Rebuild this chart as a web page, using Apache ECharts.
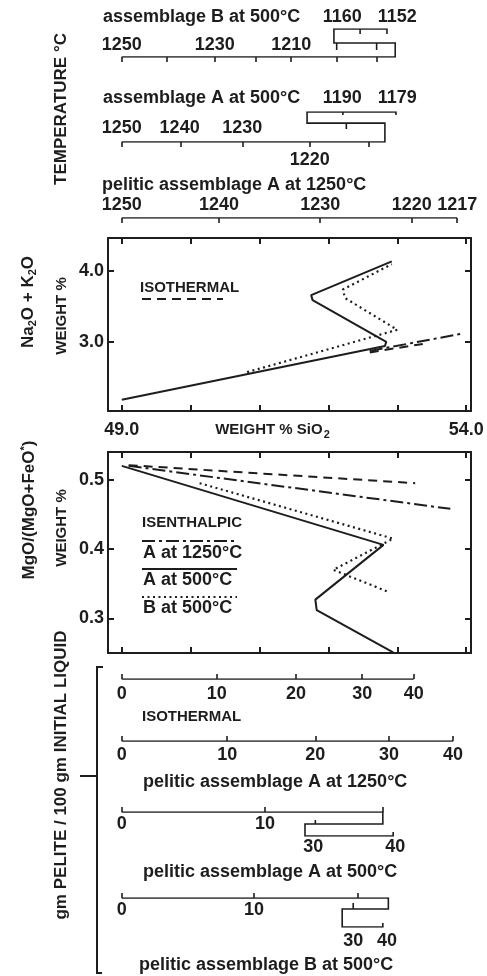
<!DOCTYPE html>
<html>
<head>
<meta charset="utf-8">
<script src="https://cdn.jsdelivr.net/npm/echarts@6/dist/echarts.min.js"></script>
<style>
  html, body { margin: 0; padding: 0; background: #fff; }
  #chart { width: 487px; height: 976px; }
</style>
</head>
<body>
<div id="chart"></div>
<script>
// shared horizontal scale: wt% SiO2
const X_MIN = 48.8, X_MAX = 54.07;
const sio2Ticks = [49, 50, 51, 52, 53, 54];
const sio2Labels = [49, 54];

// Na2O + K2O (wt%)
const naTicks = [3.0, 4.0];
const naA500 = [[49.0, 2.18], [52.82, 2.94], [52.84, 3.0], [51.77, 3.59], [51.75, 3.66], [52.92, 4.14]];
const naB500 = [[50.82, 2.57], [53.0, 3.17], [52.24, 3.62], [52.21, 3.74], [52.92, 4.10]];
const naA1250 = [[52.6, 2.87], [53.96, 3.12]];
const naIso = [[52.6, 2.85], [53.37, 2.97]];

// MgO/(MgO+FeO*) (wt%)
const mgTicks = [0.3, 0.4, 0.5];
const mgA500 = [[49.0, 0.52], [52.8, 0.406], [51.81, 0.327], [51.83, 0.312], [52.94, 0.251]];
const mgB500 = [[50.13, 0.495], [52.94, 0.415], [52.07, 0.37], [52.85, 0.339]];
const mgA1250 = [[49.1, 0.52], [53.77, 0.458]];
const mgIso = [[49.1, 0.521], [53.26, 0.495]];

// temperature scales (deg C), placed at SiO2-equivalent positions
const tBTicks = [49.0, 49.66, 50.35, 50.95, 51.46, 52.12, 52.70];
const tBLabelAt = [49.0, 50.35, 51.46];
const tBLabels = ['1250', '1230', '1210'];
const tBFoldAt = [52.20, 53.0];
const tBFoldLabels = ['1160', '1152'];
const tBPath = [[49.0, 0], [52.97, 0], [52.97, 0.5], [52.08, 0.5], [52.08, 1], [52.85, 1], [52.85, 0.82]];
const tBFoldTicks = [[[52.12, 0.5], [52.12, 0.25]], [[52.70, 0.5], [52.70, 0.25]], [[52.46, 1], [52.46, 0.82]]];

const tATicks = [49.0, 49.86, 50.75, 51.73, 52.59];
const tALabelAt = [49.0, 49.84, 50.75];
const tALabels = ['1250', '1240', '1230'];
const tABelowAt = [51.73];
const tABelow = ['1220'];
const tAFoldAt = [52.20, 53.0];
const tAFoldLabels = ['1190', '1179'];
const tAPath = [[49.0, 0], [52.82, 0], [52.82, 0.63], [51.69, 0.63], [51.69, 1], [52.98, 1], [52.98, 0.9]];
const tAFoldTicks = [[[52.26, 0.63], [52.26, 0.43]], [[52.21, 1], [52.21, 0.9]]];

const tPTicks = [49.0, 50.41, 51.88, 53.21, 53.87];
const tPLabels = ['1250', '1240', '1230', '1220', '1217'];
const tPPath = [[49.0, 0], [53.87, 0]];

// gm pelite / 100 gm initial liquid
const massLabels = ['0', '10', '20', '30', '40'];
const mIsoTicks = [49.0, 50.38, 51.53, 52.49, 53.24];
const mIsoPath = [[49.0, 0], [53.24, 0]];
const mP1Ticks = [49.0, 50.53, 51.81, 52.88, 53.81];
const mP1Path = [[49.0, 0], [53.81, 0]];
const mP2Ticks = [49.0, 51.08, 52.79];
const mP2LabelAt = [49.0, 51.08];
const mP2FoldAt = [51.78, 52.97];
const mP2Path = [[49.0, 0], [52.79, 0], [52.79, 0.5], [51.66, 0.5], [51.66, 1], [52.94, 1], [52.94, 0.83]];
const mP2FoldTicks = [[[51.81, 0.5], [51.81, 0.33]]];
const mP3Ticks = [49.0, 50.92, 52.43];
const mP3LabelAt = [49.0, 50.92];
const mP3FoldAt = [52.36, 52.85];
const mP3Path = [[49.0, 0], [52.87, 0], [52.87, 0.38], [52.2, 0.38], [52.2, 1], [52.79, 1], [52.79, 0.86]];
const mP3FoldTicks = [[[52.36, 0.38], [52.36, 0.17]]];

const INK = '#1d1d1d';
const FONT = '"Liberation Sans", Arial, sans-serif';
const numFont = { fontFamily: FONT, fontSize: 18, fontWeight: 'bold', color: INK };
const solid = { color: INK, width: 2, type: 'solid' };
const dotted = { color: INK, width: 2.2, type: [2, 3.5] };
const dashed = { color: INK, width: 2, type: [9, 6] };
const dashDot = { color: INK, width: 2, type: [13, 4, 3, 4] };

const grids = [], xAxes = [], yAxes = [], series = [];

function lookup(at, txt) {
  return v => {
    const i = at.findIndex(a => Math.abs(a - v) < 1e-6);
    return i < 0 ? '' : txt[i];
  };
}

// a boxed plot with ticks on all four sides
function addPlot(top, height, yMin, yMax, yTicks, xLabels, lines) {
  const gi = grids.length;
  grids.push({ left: 108, top: top, width: 363, height: height });
  const xi = xAxes.length, yi = yAxes.length;
  const edge = { show: true, lineStyle: { color: INK, width: 2 } };
  const tick = vals => ({ inside: true, length: 6, customValues: vals, lineStyle: { color: INK, width: 2 } });
  xAxes.push({
    gridIndex: gi, type: 'value', min: X_MIN, max: X_MAX, position: 'bottom',
    axisLine: edge, axisTick: tick(sio2Ticks), splitLine: { show: false },
    axisLabel: xLabels ? { customValues: sio2Labels, formatter: v => v.toFixed(1), margin: 10, ...numFont } : { show: false },
    name: xLabels ? 'WEIGHT % SiO{sub|2}' : '', nameLocation: 'middle', nameGap: 9, nameMoveOverlap: false,
    nameTextStyle: {
      fontFamily: FONT, fontSize: 15, fontWeight: 'bold', color: INK, padding: [0, 34, 0, 0],
      rich: { sub: { fontFamily: FONT, fontSize: 11, fontWeight: 'bold', color: INK, padding: [9, 0, 0, 1] } }
    }
  });
  xAxes.push({
    gridIndex: gi, type: 'value', min: X_MIN, max: X_MAX, position: 'top',
    axisLine: edge, axisTick: tick(sio2Ticks), axisLabel: { show: false }, splitLine: { show: false }
  });
  yAxes.push({
    gridIndex: gi, type: 'value', min: yMin, max: yMax, position: 'left',
    axisLine: edge, axisTick: tick(yTicks), splitLine: { show: false },
    axisLabel: { customValues: yTicks, formatter: v => v.toFixed(1), margin: 4, ...numFont }
  });
  yAxes.push({
    gridIndex: gi, type: 'value', min: yMin, max: yMax, position: 'right',
    axisLine: edge, axisTick: tick(yTicks), axisLabel: { show: false }, splitLine: { show: false }
  });
  lines.forEach(([data, style]) => series.push({
    type: 'line', xAxisIndex: xi, yAxisIndex: yi, data: data, showSymbol: false,
    lineStyle: style, silent: true, animation: false
  }));
}

// a folded tick scale (temperature or pelite mass)
function addScale(s) {
  const gi = grids.length;
  grids.push({ left: 108, width: 363, top: s.top, height: s.height });
  const xi = xAxes.length, yi = yAxes.length;
  const mainPos = s.down ? 'top' : 'bottom';
  const otherPos = s.down ? 'bottom' : 'top';
  const base = { gridIndex: gi, type: 'value', min: X_MIN, max: X_MAX, axisLine: { show: false }, splitLine: { show: false } };
  xAxes.push({
    ...base, position: mainPos,
    axisTick: { inside: false, length: 5, customValues: s.ticks, lineStyle: { color: INK, width: 1.6 } },
    axisLabel: { inside: true, margin: s.margin, customValues: s.labelAt, formatter: lookup(s.labelAt, s.labels), ...numFont }
  });
  if (s.foldAt) xAxes.push({
    ...base, position: otherPos, axisTick: { show: false },
    axisLabel: { margin: s.foldMargin, customValues: s.foldAt, formatter: lookup(s.foldAt, s.foldLabels), ...numFont }
  });
  if (s.belowAt) xAxes.push({
    ...base, position: mainPos, axisTick: { show: false },
    axisLabel: { margin: s.belowMargin, customValues: s.belowAt, formatter: lookup(s.belowAt, s.below), ...numFont }
  });
  yAxes.push({ gridIndex: gi, type: 'value', min: 0, max: 1, show: false, inverse: !!s.down });
  series.push({
    type: 'lines', coordinateSystem: 'cartesian2d', xAxisIndex: xi, yAxisIndex: yi,
    polyline: true, silent: true, animation: false,
    lineStyle: { color: INK, width: 1.6, opacity: 1 },
    data: [{ coords: s.path }].concat((s.foldTicks || []).map(c => ({ coords: c })))
  });
}

addPlot(238, 173, 2.02, 4.47, naTicks, true,
  [[naA500, solid], [naB500, dotted], [naA1250, dashDot], [naIso, dashed]]);
addPlot(452, 201, 0.25, 0.54, mgTicks, false,
  [[mgA500, solid], [mgB500, dotted], [mgA1250, dashDot], [mgIso, dashed]]);

addScale({ top: 29, height: 28, ticks: tBTicks, labelAt: tBLabelAt, labels: tBLabels, margin: 3,
  foldAt: tBFoldAt, foldLabels: tBFoldLabels, foldMargin: 3, path: tBPath, foldTicks: tBFoldTicks });
addScale({ top: 112, height: 30, ticks: tATicks, labelAt: tALabelAt, labels: tALabels, margin: 5,
  foldAt: tAFoldAt, foldLabels: tAFoldLabels, foldMargin: 5, belowAt: tABelowAt, below: tABelow, belowMargin: 9,
  path: tAPath, foldTicks: tAFoldTicks });
addScale({ top: 208, height: 10, ticks: tPTicks, labelAt: tPTicks, labels: tPLabels, margin: 4, path: tPPath });

addScale({ down: true, top: 679, height: 10, ticks: mIsoTicks, labelAt: mIsoTicks, labels: massLabels, margin: 6, path: mIsoPath });
addScale({ down: true, top: 741, height: 10, ticks: mP1Ticks, labelAt: mP1Ticks, labels: massLabels, margin: 5, path: mP1Path });
addScale({ down: true, top: 812, height: 24, ticks: mP2Ticks, labelAt: mP2LabelAt, labels: massLabels, margin: 3,
  foldAt: mP2FoldAt, foldLabels: ['30', '40'], foldMargin: 2, path: mP2Path, foldTicks: mP2FoldTicks });
addScale({ down: true, top: 898, height: 29, ticks: mP3Ticks, labelAt: mP3LabelAt, labels: massLabels, margin: 3,
  foldAt: mP3FoldAt, foldLabels: ['30', '40'], foldMargin: 5, path: mP3Path, foldTicks: mP3FoldTicks });

function txt(x, y, text, size, opts) {
  return Object.assign({
    type: 'text', x: x, y: y, silent: true,
    style: Object.assign({
      text: text, fill: INK, fontFamily: FONT, fontSize: size, fontWeight: 'bold',
      align: 'left', verticalAlign: 'middle'
    }, opts && opts.style)
  }, opts && opts.el);
}
function vtxt(x, y, text, size, rich) {
  return txt(x, y, text, size, { el: { rotation: Math.PI / 2 }, style: { align: 'center', rich: rich } });
}
function seg(x1, x2, y, style) {
  return { type: 'line', silent: true, shape: { x1: x1, y1: y, x2: x2, y2: y }, style: Object.assign({ stroke: INK, lineWidth: 2 }, style) };
}
const subRich = { sub: { fontFamily: FONT, fontSize: 11, fontWeight: 'bold', fill: INK, padding: [9, 0, 0, 0] } };
const supRich = { sup: { fontFamily: FONT, fontSize: 11, fontWeight: 'bold', fill: INK, padding: [0, 0, 8, 0] } };

const graphic = [
  vtxt(61, 109, 'TEMPERATURE °C', 17),
  txt(103, 17, 'assemblage B at 500°C', 18),
  txt(103, 98, 'assemblage A at 500°C', 18),
  txt(102, 185, 'pelitic assemblage A at 1250°C', 18),
  vtxt(28, 302, 'Na{sub|2}O + K{sub|2}O', 17, subRich),
  vtxt(62, 316, 'WEIGHT %', 15),
  vtxt(29, 510, 'MgO/(MgO+FeO{sup|*})', 17, supRich),
  vtxt(62, 528, 'WEIGHT %', 15),
  txt(140, 288, 'ISOTHERMAL', 15),
  seg(142, 223, 299, { lineDash: [9, 6] }),
  txt(142, 523, 'ISENTHALPIC', 15),
  seg(142, 237, 541, { lineDash: [13, 4, 3, 4] }),
  txt(143, 553, 'A at 1250°C', 18),
  seg(142, 237, 569, {}),
  txt(143, 580, 'A at 500°C', 18),
  seg(142, 237, 597, { lineDash: [2, 3.5], lineWidth: 2.2 }),
  txt(143, 608, 'B at 500°C', 18),
  vtxt(61, 775, 'gm PELITE / 100 gm INITIAL LIQUID', 17),
  { type: 'polyline', silent: true, shape: { points: [[103, 667], [97, 667], [97, 973], [102, 973]] }, style: { stroke: INK, lineWidth: 2, fill: null } },
  seg(80, 97, 776, {}),
  txt(142, 717, 'ISOTHERMAL', 15),
  txt(143, 782, 'pelitic assemblage A at 1250°C', 18),
  txt(143, 872, 'pelitic assemblage A at 500°C', 18),
  txt(139, 965, 'pelitic assemblage B at 500°C', 18)
];

const chart = echarts.init(document.getElementById('chart'), null, { renderer: 'canvas' });
chart.setOption({
  backgroundColor: '#ffffff',
  animation: false,
  grid: grids,
  xAxis: xAxes,
  yAxis: yAxes,
  series: series,
  graphic: graphic
});
</script>
</body>
</html>
